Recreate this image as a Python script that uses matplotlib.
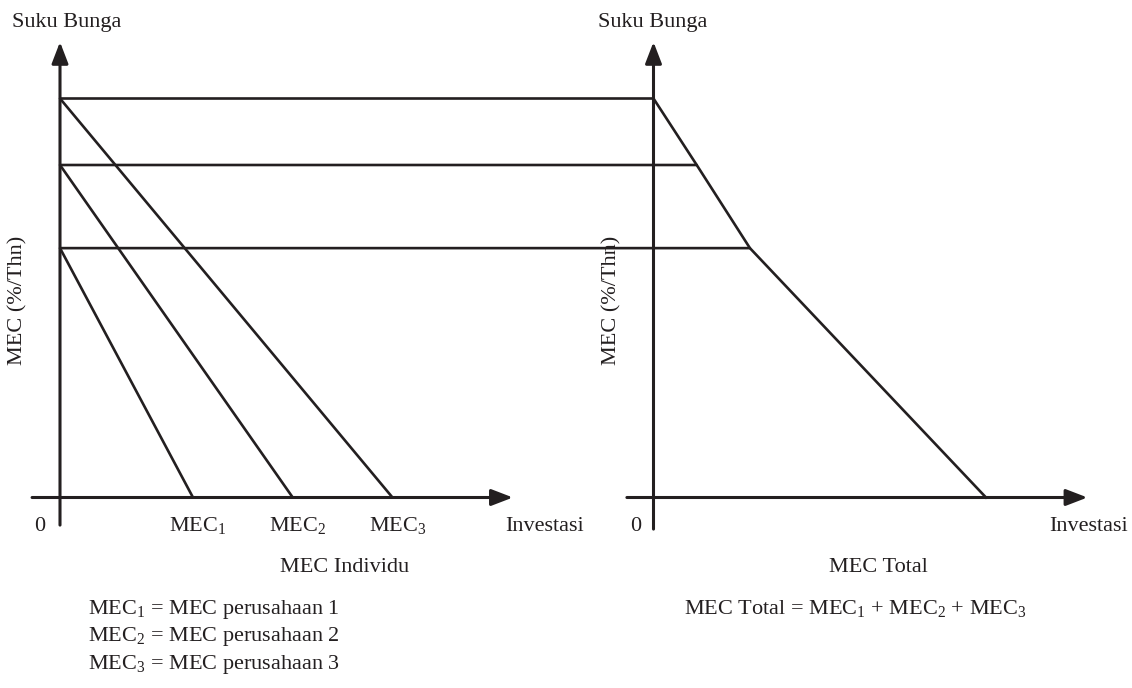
import matplotlib.pyplot as plt
from matplotlib.patches import FancyArrowPatch, ConnectionPatch

plt.rcParams['font.family'] = 'Liberation Serif'
plt.rcParams['mathtext.fontset'] = 'custom'
plt.rcParams['mathtext.rm'] = 'Liberation Serif'
plt.rcParams['mathtext.it'] = 'Liberation Serif:italic'

# interest rate levels (%/thn) and individual MEC curves
rates = [12, 10, 7.5]
mec_start = [7.5, 10, 12]      # rate where MEC1, MEC2, MEC3 start on the y axis
mec_end = [4, 7, 10]           # investment where each MEC hits zero rate
mec_labels = ['MEC$_1$', 'MEC$_2$', 'MEC$_3$']

# aggregate MEC curve
total_inv = [0, 1.3, 2.9, 10]
total_rate = [12, 10, 7.5, 0]

legend_lines = ['MEC$_1$ = MEC perusahaan 1',
                'MEC$_2$ = MEC perusahaan 2',
                'MEC$_3$ = MEC perusahaan 3']

ink = '#231f20'
fs = 16
u = 33.25  # pixels per data unit, same in both panels

fig = plt.figure(figsize=(11.32, 6.88), dpi=100)
ax1 = fig.add_axes([0, 0, 600 / 1132, 1])
ax2 = fig.add_axes([600 / 1132, 0, 532 / 1132, 1])
ax1.set_xlim(-60 / u, 540 / u)
ax2.set_xlim(-53.5 / u, 478.5 / u)
for ax in (ax1, ax2):
    ax.set_ylim(-190.5 / u, 497.5 / u)
    ax.axis('off')


def arrow_axes(ax, x0, x1, y0, y1):
    for a, b in [((x0, 0), (x1, 0)), ((0, y0), (0, y1))]:
        ax.add_patch(FancyArrowPatch(a, b, arrowstyle='-|>,head_length=1.3,head_width=0.5',
                                     mutation_scale=10, lw=2.2, color=ink,
                                     shrinkA=0, shrinkB=0, clip_on=False))


arrow_axes(ax1, -0.84, 13.62, -0.83, 13.7)
arrow_axes(ax2, -0.8, 13.05, -0.95, 13.7)

# individual MEC lines
for r0, q0 in zip(mec_start, mec_end):
    ax1.plot([0, q0], [r0, 0], color=ink, lw=1.9, solid_capstyle='butt')

# total MEC
ax2.plot(total_inv, total_rate, color=ink, lw=1.9, solid_joinstyle='miter')

# horizontal rate lines linking both panels
for r in rates:
    q = total_inv[total_rate.index(r)]
    ax1.add_artist(ConnectionPatch(xyA=(0, r), coordsA=ax1.transData,
                                   xyB=(q, r), coordsB=ax2.transData,
                                   color=ink, lw=1.9))

# axis texts
base = -1.01
ax1.text(-0.6, base, '0', fontsize=fs, ha='center', va='baseline', color=ink)
ax2.text(-0.53, base, '0', fontsize=fs, ha='center', va='baseline', color=ink)
for q0, lab in zip(mec_end, mec_labels):
    ax1.text(q0 + 0.15, base, lab, fontsize=fs, ha='center', va='baseline', color=ink)
ax1.text(13.4, base, 'Investasi', fontsize=fs, ha='left', va='baseline', color=ink)
ax2.text(14.27, base, 'Investasi', fontsize=fs, ha='right', va='baseline', color=ink)

fig.text(12 / 1132, 1 - 27 / 688, 'Suku Bunga', fontsize=fs, ha='left', va='baseline', color=ink)
fig.text(598 / 1132, 1 - 27 / 688, 'Suku Bunga', fontsize=fs, ha='left', va='baseline', color=ink)
fig.text(18 / 1132, 1 - 300 / 688, 'MEC (%/Thn)', fontsize=fs, rotation=90,
         ha='center', va='center', color=ink)
fig.text(612 / 1132, 1 - 300 / 688, 'MEC (%/Thn)', fontsize=fs, rotation=90,
         ha='center', va='center', color=ink)

fig.text(345 / 1132, 1 - 572 / 688, 'MEC Individu', fontsize=fs, ha='center', va='baseline', color=ink)
for i, line in enumerate(legend_lines):
    fig.text(88 / 1132, 1 - (614 + 27.5 * i) / 688, line, fontsize=fs,
             ha='left', va='baseline', color=ink)

fig.text(878 / 1132, 1 - 572 / 688, 'MEC Total', fontsize=fs, ha='center', va='baseline', color=ink)
fig.text(855 / 1132, 1 - 614 / 688, 'MEC Total = MEC$_1$ + MEC$_2$ + MEC$_3$', fontsize=fs,
         ha='center', va='baseline', color=ink)

fig.savefig('out.png', dpi=100, facecolor='white')
